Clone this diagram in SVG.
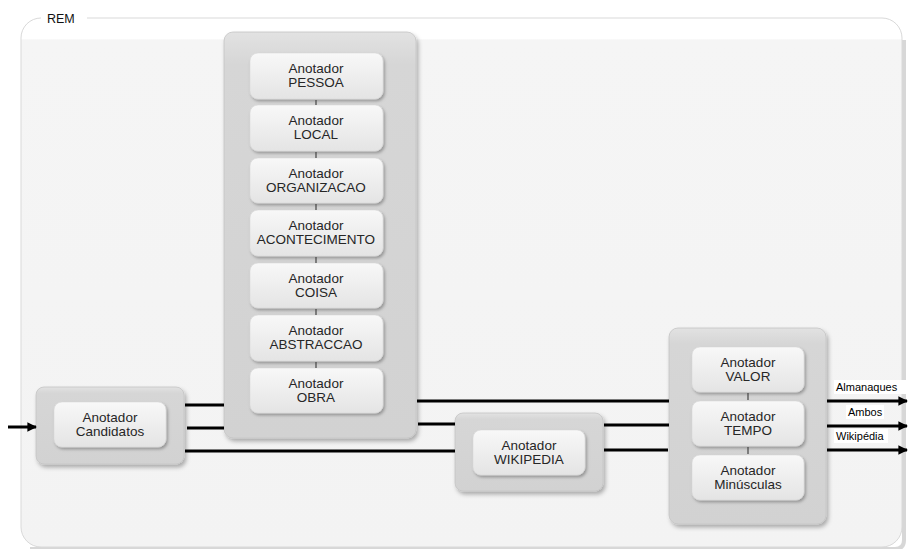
<svg xmlns="http://www.w3.org/2000/svg" width="909" height="549" viewBox="0 0 909 549">
<defs>
<linearGradient id="gOuter" x1="0" y1="0" x2="0" y2="1">
<stop offset="0" stop-color="#ffffff"/><stop offset="0.04" stop-color="#ffffff"/><stop offset="0.041" stop-color="#f5f5f5"/><stop offset="1" stop-color="#f3f3f3"/>
</linearGradient>
<linearGradient id="gCont" x1="0" y1="0" x2="0" y2="1">
<stop offset="0" stop-color="#e2e2e2"/><stop offset="0.08" stop-color="#d6d6d6"/><stop offset="1" stop-color="#d2d2d2"/>
</linearGradient>
<linearGradient id="gBox" x1="0" y1="0" x2="0" y2="1">
<stop offset="0" stop-color="#f8f8f8"/><stop offset="1" stop-color="#e4e4e4"/>
</linearGradient>
<filter id="sh" x="-20%" y="-20%" width="150%" height="150%">
<feDropShadow dx="2" dy="3" stdDeviation="2" flood-color="#000" flood-opacity="0.3"/>
</filter>
<filter id="shs" x="-20%" y="-20%" width="150%" height="150%">
<feDropShadow dx="1.5" dy="2" stdDeviation="1.5" flood-color="#000" flood-opacity="0.3"/>
</filter>
<marker id="arr" viewBox="0 0 10 10" refX="9" refY="5" markerWidth="3.2" markerHeight="3.2" orient="auto" markerUnits="strokeWidth">
<path d="M0,0 L10,5 L0,10 z" fill="#000"/>
</marker>
</defs>
<style>
.cont{fill:url(#gCont);stroke:#c4c4c4;stroke-width:0.8;filter:url(#sh)}
.box{fill:url(#gBox);stroke:#d8d8d8;stroke-width:0.6;filter:url(#shs)}
.t{font-family:"Liberation Sans",Arial,sans-serif;font-size:13.5px;fill:#262626;text-anchor:middle}
.lbl{font-family:"Liberation Sans",Arial,sans-serif;font-size:11px;fill:#000}
.wire{stroke:#000;stroke-width:3;fill:none}
.tick{stroke:#444;stroke-width:1.2}
</style>
<rect width="909" height="549" fill="#ffffff"/>
<g id="rem">
<path d="M904,40 V540 Q904,549 895,549 H30" fill="none" stroke="#bdbdbd" stroke-width="4" opacity="0.6"/>
<rect x="21" y="18" width="881" height="529" rx="20" ry="20" fill="url(#gOuter)" stroke="#d9d9d9" stroke-width="1"/>
<rect x="41" y="12" width="46" height="12" fill="#ffffff"/>
<text x="47" y="23" font-family="Liberation Sans, Arial, sans-serif" font-size="12.5" fill="#111">REM</text>
</g>
<g id="col-container"><rect class="cont" x="224" y="32" width="192" height="406" rx="9"/></g>
<g id="pessoa"><rect class="box" x="250" y="53" width="133" height="46" rx="8"/><text class="t" x="316" y="73">Anotador</text><text class="t" x="316" y="87">PESSOA</text></g>
<g id="local"><rect class="box" x="250" y="105" width="133" height="46" rx="8"/><text class="t" x="316" y="125">Anotador</text><text class="t" x="316" y="139">LOCAL</text></g>
<g id="organizacao"><rect class="box" x="250" y="158" width="133" height="45" rx="8"/><text class="t" x="316" y="178">Anotador</text><text class="t" x="316" y="192">ORGANIZACAO</text></g>
<g id="acontecimento"><rect class="box" x="250" y="210" width="133" height="46" rx="8"/><text class="t" x="316" y="230">Anotador</text><text class="t" x="316" y="244">ACONTECIMENTO</text></g>
<g id="coisa"><rect class="box" x="250" y="263" width="133" height="45" rx="8"/><text class="t" x="316" y="283">Anotador</text><text class="t" x="316" y="297">COISA</text></g>
<g id="abstraccao"><rect class="box" x="250" y="315" width="133" height="46" rx="8"/><text class="t" x="316" y="335">Anotador</text><text class="t" x="316" y="349">ABSTRACCAO</text></g>
<g id="obra"><rect class="box" x="250" y="368" width="133" height="45" rx="8"/><text class="t" x="316" y="388">Anotador</text><text class="t" x="316" y="402">OBRA</text></g>
<g id="candidatos"><rect class="cont" x="36" y="387" width="148" height="77" rx="8"/><rect class="box" x="54" y="402" width="112" height="45" rx="8"/><text class="t" x="110" y="422">Anotador</text><text class="t" x="110" y="436">Candidatos</text></g>
<g id="wikipedia"><rect class="cont" x="455" y="413" width="148" height="78" rx="8"/><rect class="box" x="473" y="430" width="112" height="45" rx="8"/><text class="t" x="529" y="450">Anotador</text><text class="t" x="529" y="464">WIKIPEDIA</text></g>
<g id="right-container"><rect class="cont" x="669" y="328" width="157" height="196" rx="9"/></g>
<g id="valor"><rect class="box" x="692" y="347" width="112" height="45" rx="8"/><text class="t" x="748" y="367">Anotador</text><text class="t" x="748" y="381">VALOR</text></g>
<g id="tempo"><rect class="box" x="692" y="401" width="112" height="45" rx="8"/><text class="t" x="748" y="421">Anotador</text><text class="t" x="748" y="435">TEMPO</text></g>
<g id="minusculas"><rect class="box" x="692" y="455" width="112" height="45" rx="8"/><text class="t" x="748" y="475">Anotador</text><text class="t" x="748" y="489">Minúsculas</text></g>
<g id="connectors">
<line class="wire" x1="8" y1="427" x2="36" y2="427" marker-end="url(#arr)"/>
<line class="wire" x1="185" y1="405" x2="224" y2="405"/>
<line class="wire" x1="187" y1="428" x2="224" y2="428"/>
<line class="wire" x1="185" y1="451" x2="455" y2="451"/>
<line class="wire" x1="417" y1="401" x2="669" y2="401"/>
<line class="wire" x1="418" y1="424" x2="455" y2="424"/>
<line class="wire" x1="604" y1="425" x2="669" y2="425"/>
<line class="wire" x1="604" y1="450" x2="668" y2="450"/>
<line class="wire" x1="827" y1="401" x2="907" y2="401" marker-end="url(#arr)"/>
<line class="wire" x1="827" y1="426" x2="907" y2="426" marker-end="url(#arr)"/>
<line class="wire" x1="827" y1="450" x2="907" y2="450" marker-end="url(#arr)"/>
<rect x="834" y="380" width="73" height="14" fill="#fff"/>
<text class="lbl" x="836" y="391">Almanaques</text>
<rect x="846" y="405" width="38" height="14" fill="#fff"/>
<text class="lbl" x="848" y="416">Ambos</text>
<rect x="834" y="429" width="54" height="14" fill="#fff"/>
<text class="lbl" x="836" y="440">Wikipédia</text>
<line class="tick" x1="316" y1="100" x2="316" y2="105"/>
<line class="tick" x1="316" y1="152" x2="316" y2="158"/>
<line class="tick" x1="316" y1="204" x2="316" y2="210"/>
<line class="tick" x1="316" y1="257" x2="316" y2="263"/>
<line class="tick" x1="316" y1="309" x2="316" y2="315"/>
<line class="tick" x1="316" y1="362" x2="316" y2="368"/>
<line class="tick" x1="748" y1="393" x2="748" y2="400"/>
<line class="tick" x1="748" y1="447" x2="748" y2="454"/>
</g>
</svg>
